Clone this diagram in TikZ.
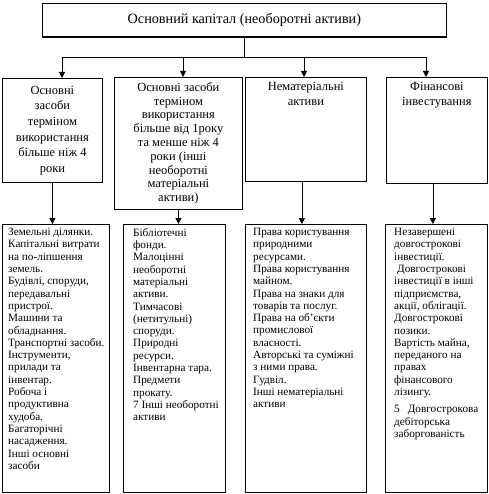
\documentclass[tikz,border=0pt]{standalone}
\usepackage{fontspec}
\setmainfont{Liberation Serif}
\usetikzlibrary{arrows.meta}
\begin{document}
\begin{tikzpicture}[x=1pt,y=-1pt,
  box/.style={draw, line width=0.8pt, inner sep=0pt, anchor=north west},
  arr/.style={line width=0.8pt, -{Triangle[width=6pt,length=6pt]}},
  ln/.style={line width=0.8pt},
  headA/.style={align=center, font=\fontsize{12.5}{15.6}\selectfont},
  headB/.style={align=center, font=\fontsize{12.5}{13.8}\selectfont},
  headC/.style={align=center, inner sep=0pt, anchor=north, font=\fontsize{12.5}{15}\selectfont},
  listtext/.style={align=left, anchor=north west, inner sep=0pt, font=\fontsize{11.2}{12.3}\selectfont}]
\useasboundingbox (0,0) rectangle (488,494);
% top
\node[box, minimum width=404pt, minimum height=33pt, font=\fontsize{14.2}{16}\selectfont] (top) at (42,3) {Основний капітал (необоротні активи)};
\draw[line width=2pt] (top.south west) -- (top.south east);
% second row
\node[box, headA, minimum width=100pt, minimum height=104pt] (b1) at (2,78) {Основні\\засоби\\терміном\\використання\\більше ніж 4\\роки};
\node[box, headB, minimum width=128pt, minimum height=132pt] (b2) at (114,77) {Основні засоби\\терміном\\використання\\більше від 1року\\та менше ніж 4\\роки (інші\\необоротні\\матеріальні\\активи)};
\node[box, minimum width=121pt, minimum height=104pt] (b3) at (245,77) {};
\node[headC] (b3t) at ([yshift=-5pt]b3.north) {Нематеріальні\\активи};
\node[box, minimum width=101pt, minimum height=106pt] (b4) at (386,77) {};
\node[headC] (b4t) at ([yshift=-5pt]b4.north) {Фінансові\\інвестування};
% third row
\node[box, minimum width=107pt, minimum height=268pt] (A) at (2,224) {};
\node[box, minimum width=102pt, minimum height=268pt] (B) at (123,224) {};
\node[box, minimum width=121pt, minimum height=268pt] (C) at (245,224) {};
\node[box, minimum width=102pt, minimum height=268pt] (D) at (385,224) {};
\node[listtext] (At) at ([shift={(6pt,-4pt)}]A.north west) {Земельні ділянки.\\Капітальні витрати\\на по-ліпшення\\земель.\\Будівлі, споруди,\\передавальні\\пристрої.\\Машини та\\обладнання.\\Транспортні засоби.\\Інструменти,\\прилади та\\інвентар.\\Робоча і\\продуктивна\\худоба.\\Багаторічні\\насадження.\\Інші основні\\засоби};
\node[listtext] (Bt) at ([shift={(10pt,-4pt)}]B.north west) {Бібліотечні\\фонди.\\Малоцінні\\необоротні\\матеріальні\\активи.\\Тимчасові\\(нетитульні)\\споруди.\\Природні\\ресурси.\\Інвентарна тара.\\Предмети\\прокату.\\7 Інші необоротні\\активи};
\node[listtext] (Ct) at ([shift={(8pt,-4pt)}]C.north west) {Права користування\\природними\\ресурсами.\\Права користування\\майном.\\Права на знаки для\\товарів та послуг.\\Права на об’єкти\\промислової\\власності.\\Авторські та суміжні\\з ними права.\\Гудвіл.\\Інші нематеріальні\\активи};
\node[listtext] (Dt) at ([shift={(9pt,-4pt)}]D.north west) {Незавершені\\довгострокові\\інвестиції.\\\hspace*{3pt}Довгострокові\\інвестиції в інші\\підприємства,\\акції, облігації.\\Довгострокові\\позики.\\Вартість майна,\\переданого на\\правах\\фінансового\\лізингу.\\[5pt]5\hspace{8pt}Довгострокова\\дебіторська\\заборгованість};
% connectors top
\coordinate (j) at (top.south |- 0,57);
\coordinate (h1) at (62,57);
\coordinate (h2) at (183,57);
\coordinate (h3) at (304,57);
\coordinate (h4) at (426,57);
\draw[ln] (top.south) -- (j);
\draw[ln] (h1) -- (h4);
\draw[arr] (h1) -- (h1 |- b1.north);
\draw[arr] (h2) -- (h2 |- b2.north);
\draw[arr] (h3) -- (h3 |- b3.north);
\draw[arr] (h4) -- (h4 |- b4.north);
% connectors bottom
\coordinate (s3) at ([xshift=-4pt]b3.south);
\coordinate (s4) at ([xshift=-4pt]b4.south);
\draw[arr] (b1.south) -- (b1.south |- A.north);
\draw[arr] (b2.south) -- (b2.south |- B.north);
\draw[arr] (s3) -- (s3 |- C.north);
\draw[arr] (s4) -- (s4 |- D.north);
\end{tikzpicture}
\end{document}
